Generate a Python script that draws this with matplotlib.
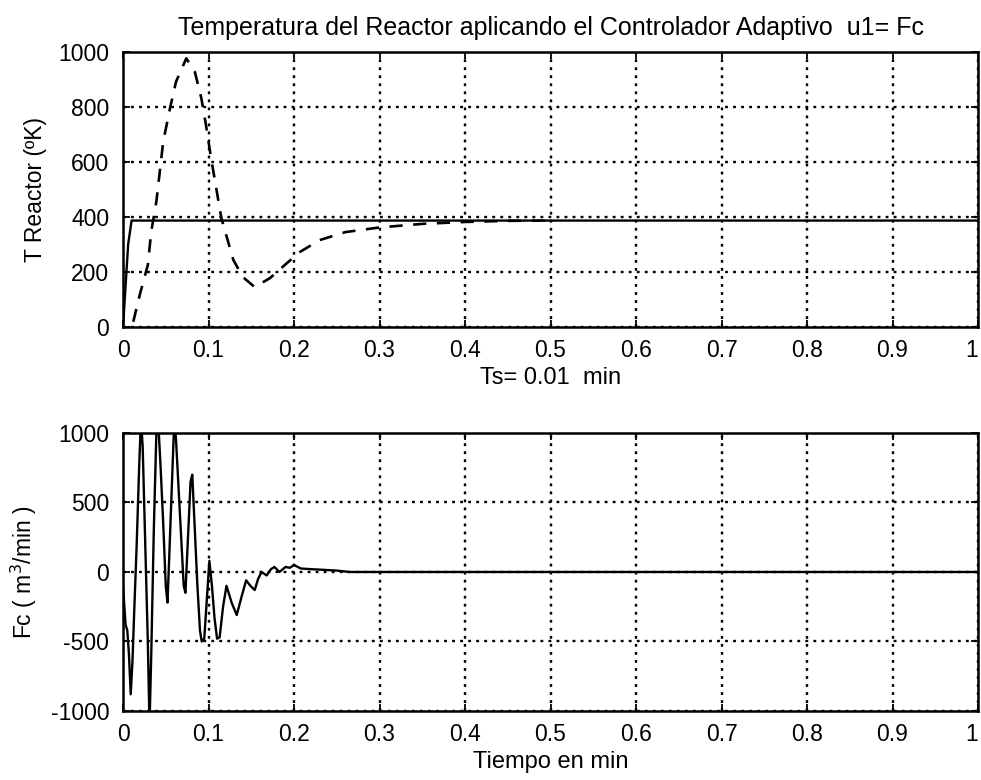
"""Reactor temperature and coolant flow under the adaptive controller."""

import matplotlib.pyplot as plt

plt.rcParams["font.family"] = ["Liberation Sans", "DejaVu Sans"]
plt.rcParams["axes.unicode_minus"] = False

# Setpoint (solid) and reactor temperature (dashed), top panel
setpoint_t = [0.0, 0.003, 0.006, 0.010, 1.0]
setpoint_T = [0, 150, 300, 387, 387]

reactor_t = [0.012, 0.0195, 0.029, 0.033, 0.039, 0.043, 0.047, 0.055, 0.062,
             0.074, 0.084, 0.0916, 0.097, 0.103, 0.109, 0.115, 0.129, 0.140,
             0.154, 0.172, 0.189, 0.207, 0.230, 0.26, 0.30, 0.35, 0.40, 0.45,
             0.50]
reactor_T = [19, 116, 225, 347, 456, 565, 674, 796, 892,
             977, 928, 832, 735, 614, 505, 396, 244, 182,
             145, 178, 225, 273, 316, 345, 362, 375, 382, 386,
             387]

# Manipulated variable Fc, bottom panel
fc_t = [0.000, 0.003, 0.005, 0.007, 0.009, 0.011, 0.013, 0.016, 0.019, 0.021,
        0.023, 0.026, 0.029, 0.031, 0.033, 0.036, 0.039, 0.041, 0.044, 0.047,
        0.050, 0.052, 0.054, 0.057, 0.060, 0.062, 0.065, 0.068, 0.071, 0.073,
        0.076, 0.079, 0.081, 0.084, 0.087, 0.090, 0.092, 0.095, 0.098, 0.101,
        0.104, 0.107, 0.110, 0.113, 0.117, 0.121, 0.127, 0.133, 0.139, 0.144,
        0.149, 0.154, 0.158, 0.162, 0.168, 0.173, 0.177, 0.183, 0.190, 0.195,
        0.200, 0.208, 0.220, 0.230, 0.250, 0.265, 1.0]
fc_val = [-100, -380, -420, -600, -880, -650, -300, 200, 780, 1100,
          900, 200, -500, -1100, -600, 300, 1000, 1100, 750, 350,
          -100, -220, 100, 600, 1100, 950, 600, 250, -100, -150,
          250, 650, 700, 300, -100, -420, -500, -480, -200, 80,
          -100, -330, -480, -470, -250, -100, -220, -310, -170, -60,
          -100, -130, -50, 0, -25, 20, 36, 0, 36, 30,
          50, 25, 20, 17, 10, 0, 0]

x_ticks = [0, 0.1, 0.2, 0.3, 0.4, 0.5, 0.6, 0.7, 0.8, 0.9, 1]
x_labels = ["0", "0.1", "0.2", "0.3", "0.4", "0.5", "0.6", "0.7", "0.8", "0.9", "1"]


def style_axes(ax):
    ax.set_xlim(0, 1)
    ax.set_xticks(x_ticks)
    ax.set_xticklabels(x_labels)
    # the last label sits on the figure edge; keep it inside
    ax.get_xticklabels()[-1].set_horizontalalignment("right")
    ax.grid(True, color="black", linestyle=(0, (1.2, 2.2)), linewidth=1.7)
    ax.tick_params(direction="in", length=5, width=1.3, top=True, right=True,
                   labelsize=16.5, colors="black")
    ax.tick_params(axis="x", pad=9)
    ax.tick_params(axis="y", pad=10)
    for spine in ax.spines.values():
        spine.set_linewidth(1.8)


fig = plt.figure(figsize=(9.81, 7.8), dpi=100)
ax_top = fig.add_axes([0.1254, 0.5808, 0.8716, 0.3525])
ax_bot = fig.add_axes([0.1254, 0.0885, 0.8716, 0.3564])

ax_top.plot(setpoint_t, setpoint_T, color="black", linewidth=1.7)
ax_top.plot(reactor_t, reactor_T, color="black", linewidth=1.9,
            linestyle=(0, (5, 4)))
ax_top.set_ylim(0, 1000)
ax_top.set_yticks([0, 200, 400, 600, 800, 1000])
style_axes(ax_top)
ax_top.set_title("Temperatura del Reactor aplicando el Controlador Adaptivo  u1= Fc",
                 fontsize=18, pad=12)
ax_top.set_xlabel("Ts= 0.01  min", fontsize=17, labelpad=3)
ax_top.set_ylabel("T Reactor (ºK)", fontsize=16.5, labelpad=8)

ax_bot.plot(fc_t, fc_val, color="black", linewidth=1.7)
ax_bot.set_ylim(-1000, 1000)
ax_bot.set_yticks([-1000, -500, 0, 500, 1000])
style_axes(ax_bot)
ax_bot.set_xlabel("Tiempo en min", fontsize=17, labelpad=3)
ax_bot.set_ylabel("Fc ( m$^3$/min )", fontsize=16.5, labelpad=8)

fig.savefig("out.png", dpi=100)
